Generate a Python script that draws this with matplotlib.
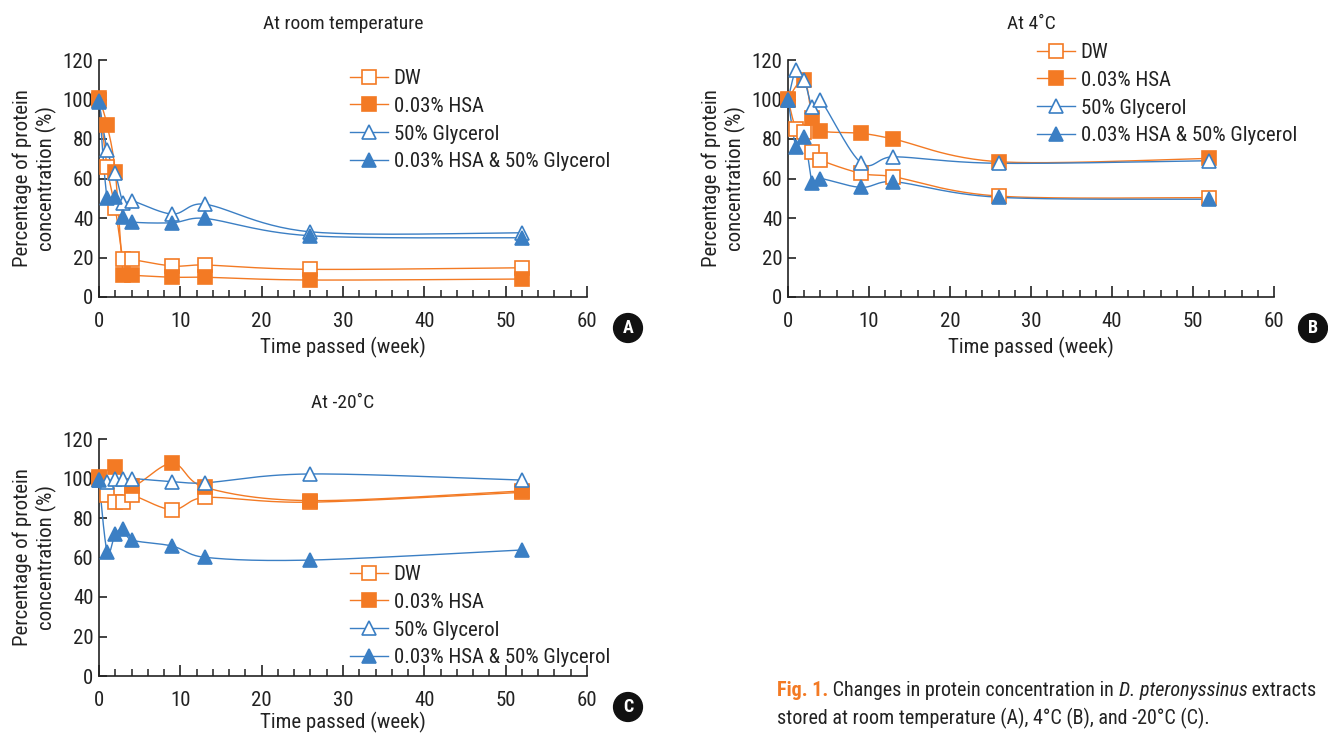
import numpy as np
import matplotlib
matplotlib.use("Agg")
import matplotlib.pyplot as plt
from matplotlib.lines import Line2D

plt.rcParams['font.family'] = ['Roboto Condensed', 'Liberation Sans Narrow', 'Roboto', 'DejaVu Sans']

# data
weeks = [0, 1, 2, 3, 4, 9, 13, 26, 52]

# A: room temperature
dw_rt = [100, 65.7, 44.9, 19, 19, 15.7, 16.2, 14.0, 14.8]
hsa_rt = [101, 87, 63.5, 11, 11, 10, 10, 8.6, 9.1]
gly_rt = [99, 74.4, 63, 47.6, 48.8, 42, 47, 33, 32.5]
hsagly_rt = [98.9, 50, 50.5, 40.7, 38, 37.6, 39.8, 31, 30]

# B: 4 C
weeks_hsa_4 = [0, 2, 3, 4, 9, 13, 26, 52]
dw_4 = [100, 84.9, 83.7, 73.6, 69.4, 62.6, 60.9, 51.1, 50.3]
hsa_4 = [100.4, 110, 90.5, 84.2, 82.9, 80, 68.5, 70.2]
gly_4 = [100, 115, 110, 96.3, 99.7, 68, 71, 67.7, 69]
hsagly_4 = [100, 76, 81, 57.9, 60, 55.5, 58.4, 50.5, 49.5]

# C: -20 C
weeks_hsa_m20 = [0, 2, 4, 9, 13, 26, 52]
dw_m20 = [100, 91.6, 88.3, 88.3, 91.6, 84.2, 90.4, 88, 93]
hsa_m20 = [100.6, 105.7, 96, 107.7, 95.5, 88.8, 93.7]
gly_m20 = [99, 98.4, 100, 99.5, 100, 98.4, 97.8, 102.3, 99.2]
hsagly_m20 = [99.2, 62.9, 71.9, 74.3, 68.9, 65.8, 60.1, 58.7, 63.8]

labels = ['DW', '0.03% HSA', '50% Glycerol', '0.03% HSA & 50% Glycerol']

ORANGE = '#F37A24'
BLUE = '#3B7FC4'
styles = [
    dict(color=ORANGE, marker='s', mfc='white', mec=ORANGE, lw=1.0),
    dict(color=ORANGE, marker='s', mfc=ORANGE, mec=ORANGE, lw=1.0),
    dict(color=BLUE, marker='^', mfc='white', mec=BLUE, lw=1.0),
    dict(color=BLUE, marker='^', mfc=BLUE, mec=BLUE, lw=1.0),
]

W, H = 1328, 733
SX = 488 / 60.0   # px per week
SY = 237 / 120.0  # px per percent


def smooth(x, y, n=30):
    # bezier smoothing like a spreadsheet "smoothed line"
    P = np.column_stack([np.asarray(x, float) * SX, np.asarray(y, float) * SY])
    out = [P[0]]
    t = np.linspace(0, 1, n)[1:, None]
    for i in range(len(P) - 1):
        p0 = P[i - 1] if i > 0 else P[i]
        p1 = P[i]
        p2 = P[i + 1]
        p3 = P[i + 2] if i + 2 < len(P) else P[i + 1]
        seg = np.linalg.norm(p2 - p1)
        a = (p2 - p0) / 6.0
        b = (p3 - p1) / 6.0
        if np.linalg.norm(a) > seg / 2:
            a = a / np.linalg.norm(a) * seg / 2
        if np.linalg.norm(b) > seg / 2:
            b = b / np.linalg.norm(b) * seg / 2
        c1 = p1 + a
        c2 = p2 - b
        pts = ((1 - t) ** 3) * p1 + 3 * ((1 - t) ** 2) * t * c1 + 3 * (1 - t) * t ** 2 * c2 + t ** 3 * p2
        out.extend(pts)
    out = np.array(out)
    return out[:, 0] / SX, out[:, 1] / SY


def panel(fig, rect, title, series, leg_xy, letter, letter_xy, xpad=4):
    ax = fig.add_axes(rect)
    for (xs, ys), st in zip(series, styles):
        cx, cy = smooth(xs, ys)
        ax.plot(cx, cy, color=st['color'], lw=st['lw'], zorder=2, clip_on=False)
    for (xs, ys), st in zip(series, styles):
        ax.plot(xs, ys, ls='none', marker=st['marker'], mfc=st['mfc'], mec=st['mec'],
                ms=10.5, mew=1.2, zorder=3, clip_on=False)
    ax.set_xlim(0, 60)
    ax.set_ylim(0, 120)
    ax.set_xticks(np.arange(0, 61, 10))
    ax.set_xticks(np.arange(0, 61, 2), minor=True)
    ax.set_yticks(np.arange(0, 121, 20))
    for s in ['top', 'right']:
        ax.spines[s].set_visible(False)
    for s in ['left', 'bottom']:
        ax.spines[s].set_linewidth(1.2)
        ax.spines[s].set_color('#222222')
    ax.tick_params(axis='both', which='major', direction='in', labelsize=15, width=1.2,
                   color='#222222', labelcolor='#222222')
    ax.tick_params(axis='x', which='major', length=8, pad=11)
    ax.tick_params(axis='y', which='major', length=6, pad=4)
    ax.tick_params(axis='x', which='minor', direction='in', length=5, width=1.1, color='#222222')
    ax.set_xlabel('Time passed (week)', fontsize=15, labelpad=xpad, color='#222222')
    ax.set_ylabel('Percentage of protein\nconcentration (%)', fontsize=15, labelpad=4,
                  linespacing=1.25, color='#222222')
    ax.set_title(title, fontsize=14, pad=22, color='#222222')

    handles = [Line2D([], [], color=st['color'], lw=1.0, marker=st['marker'], mfc=st['mfc'],
                      mec=st['mec'], ms=10.5, mew=1.2) for st in styles]
    leg = ax.legend(handles, labels, loc='upper left',
                    bbox_to_anchor=(leg_xy[0] / W, 1 - leg_xy[1] / H),
                    bbox_transform=fig.transFigure, frameon=False, fontsize=15, handlelength=1.8,
                    handletextpad=0.3, labelspacing=0.42, borderpad=0, borderaxespad=0)
    for t in leg.get_texts():
        t.set_color('#222222')
    fig.text(letter_xy[0] / W, 1 - letter_xy[1] / H, letter, color='white', fontsize=13,
             fontweight='bold', ha='center', va='center',
             bbox=dict(boxstyle='circle,pad=0.3', fc='#111111', ec='#111111'))
    return ax


fig = plt.figure(figsize=(W / 100, H / 100), dpi=100)

ax_a = panel(fig, [99 / W, 1 - 297 / H, 488 / W, 237 / H], 'At room temperature',
             [(weeks, dw_rt), (weeks, hsa_rt), (weeks, gly_rt), (weeks, hsagly_rt)],
             (350, 69), 'A', (628, 328))
ax_b = panel(fig, [788 / W, 1 - 297 / H, 486 / W, 237 / H], 'At 4\u02daC',
             [(weeks, dw_4), (weeks_hsa_4, hsa_4), (weeks, gly_4), (weeks, hsagly_4)],
             (1037, 43), 'B', (1313, 328))
ax_c = panel(fig, [99 / W, 1 - 676 / H, 488 / W, 237 / H], 'At -20\u02daC',
             [(weeks, dw_m20), (weeks_hsa_m20, hsa_m20), (weeks, gly_m20), (weeks, hsagly_m20)],
             (350, 565), 'C', (628, 707), xpad=1)

# caption, pieces laid one after another
fig.canvas.draw()
renderer = fig.canvas.get_renderer()


def put_pieces(x0, y0, pieces):
    x = x0
    for txt, kw in pieces:
        t = fig.text(x / W, 1 - y0 / H, txt, fontsize=14.5, va='center', ha='left', **kw)
        bb = t.get_window_extent(renderer=renderer)
        x += bb.width


put_pieces(777, 691, [('Fig. 1.', dict(color=ORANGE, fontweight='bold')),
                      (' Changes in protein concentration in ', dict(color='#222222')),
                      ('D. pteronyssinus', dict(color='#222222', style='italic')),
                      (' extracts', dict(color='#222222'))])
put_pieces(777, 718, [('stored at room temperature (A), 4\u00b0C (B), and -20\u00b0C (C).',
                       dict(color='#222222'))])

fig.savefig('out.png', dpi=100)
